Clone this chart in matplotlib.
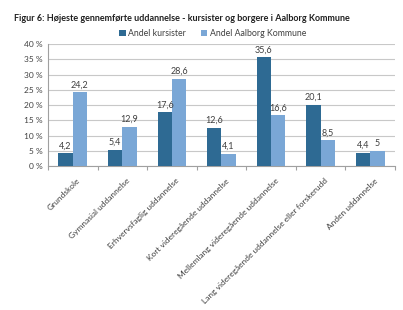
import matplotlib
matplotlib.use("Agg")
import numpy as np
from matplotlib import pyplot as plt

plt.rcParams['font.family'] = ['Lato', 'DejaVu Sans']

categories = ['Grundskole', 'Gymnasial uddannelse', 'Erhvervsfaglig uddannelse',
              'Kort videregående uddannelse', 'Mellemlang videregående uddannelse',
              'Lang videregående uddannelse eller forskerudd', 'Anden uddannelse']
kursister = [4.2, 5.4, 17.6, 12.6, 35.6, 20.1, 4.4]
kommune = [24.2, 12.9, 28.6, 4.1, 16.6, 8.5, 5.0]
series_names = ['Andel kursister', 'Andel Aalborg Kommune']
yticks = [0, 5, 10, 15, 20, 25, 30, 35, 40]

dark = '#2e6a93'
light = '#7aa7d6'

fig = plt.figure(figsize=(4.03, 3.10), dpi=100)
ax = fig.add_axes([0.119, 0.4645, 0.861, 0.3935])

x = np.arange(len(categories))
w = 0.29
b1 = ax.bar(x - w/2, kursister, w, color=dark, label=series_names[0], zorder=3)
b2 = ax.bar(x + w/2, kommune, w, color=light, label=series_names[1], zorder=3)

def fmt(v):
    s = ('%g' % v).replace('.', ',')
    return s

for bars, vals in ((b1, kursister), (b2, kommune)):
    for r, v in zip(bars, vals):
        ax.text(r.get_x() + r.get_width()/2, v + 0.9, fmt(v), ha='center', va='bottom',
                fontsize=6.5, color='#404040')

ax.set_xlim(-0.5, len(categories) - 0.5)
ax.set_ylim(0, 40)
ax.set_yticks(yticks)
ax.set_yticklabels(['%d %%' % t for t in yticks], fontsize=6, color='#404040')
ax.yaxis.grid(True, color='#c8c8c8', linewidth=0.8, zorder=0)
ax.tick_params(axis='y', length=0, pad=4)

ax.set_xticks(np.arange(len(categories) + 1) - 0.5, minor=False)
ax.set_xticklabels([])
ax.tick_params(axis='x', length=3, color='#a0a0a0', direction='out')
ax.set_xticks(x + 0.08, minor=True)
ax.set_xticklabels(categories, minor=True, rotation=45, ha='right', rotation_mode='anchor',
                   fontsize=6, color='#404040')
ax.tick_params(axis='x', which='minor', length=0, pad=8)

for s in ('top', 'right'):
    ax.spines[s].set_visible(False)
for s in ('left', 'bottom'):
    ax.spines[s].set_color('#a0a0a0')
    ax.spines[s].set_linewidth(0.8)

fig.text(0.035, 0.94, 'Figur 6: Højeste gennemførte uddannelse - kursister og borgere i Aalborg Kommune',
         fontsize=6.45, fontweight='bold', color='#202020', va='center')
fig.legend(loc='center', bbox_to_anchor=(0.528, 0.893), ncol=2, frameon=False, fontsize=6.3,
           handlelength=0.7, handleheight=0.7, handletextpad=0.3, columnspacing=1.7,
           labelcolor='#404040')

fig.savefig('out.png', dpi=100)
